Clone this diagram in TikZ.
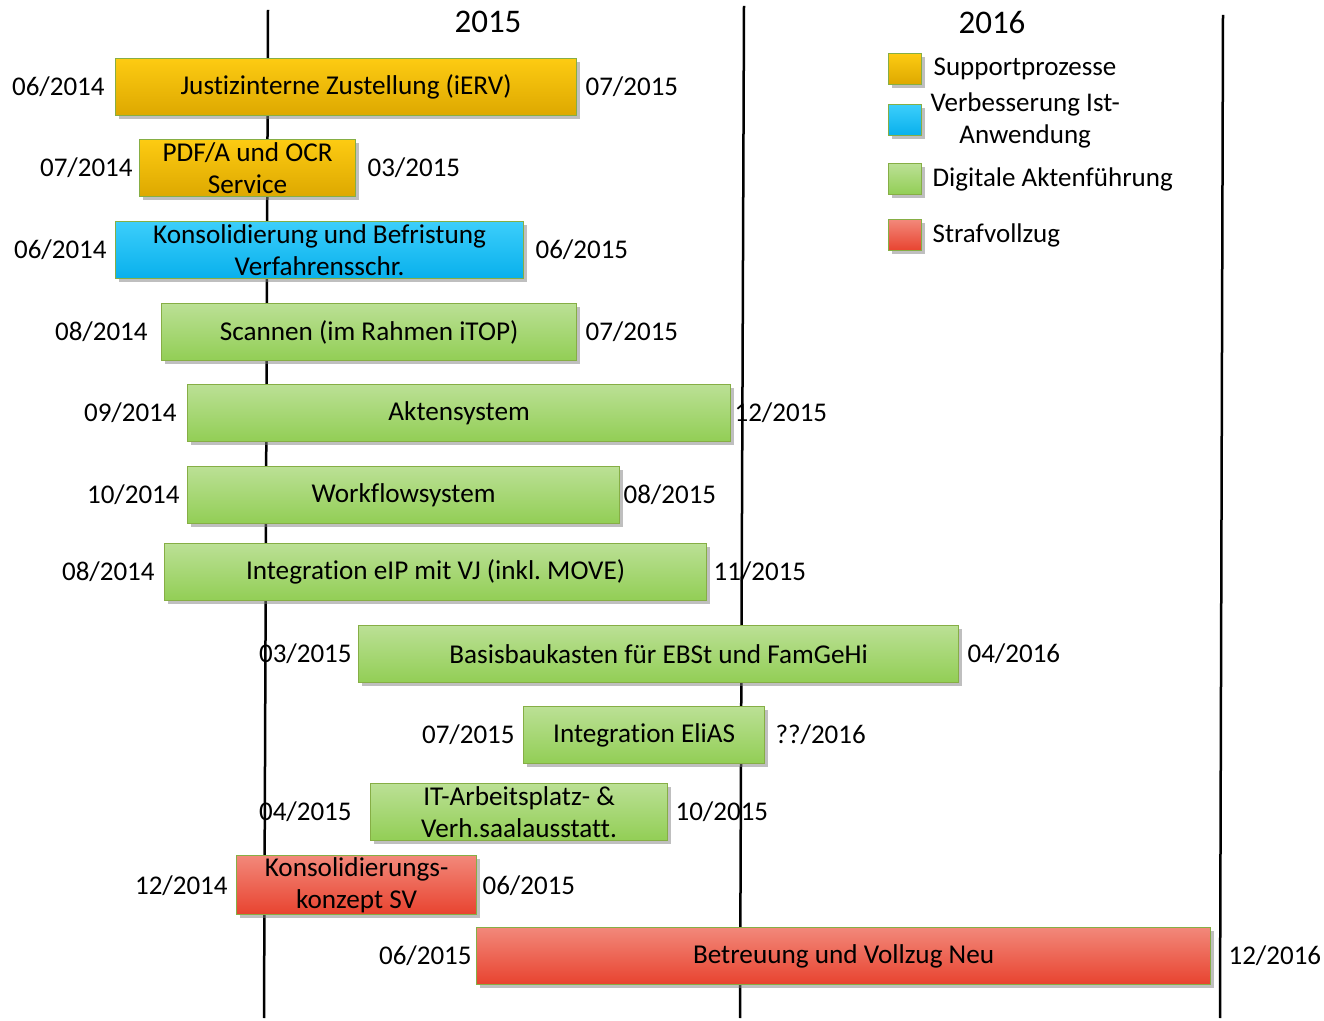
\documentclass[tikz,border=0pt]{standalone}
\usepackage{fontspec}
\setmainfont[Ligatures=NoCommon]{Carlito}
\usetikzlibrary{positioning,shadows}
\frenchspacing

\definecolor{suppTop}{HTML}{FDCB12}
\definecolor{suppBot}{HTML}{DDA800}
\definecolor{istTop}{HTML}{3CCEFB}
\definecolor{istBot}{HTML}{08B0EC}
\definecolor{aktTop}{HTML}{BBE095}
\definecolor{aktBot}{HTML}{92CE55}
\definecolor{svTop}{HTML}{F2887A}
\definecolor{svBot}{HTML}{E8432F}
\definecolor{barEdge}{HTML}{86AE45}

\tikzset{
  bar/.style={draw=barEdge, line width=0.6pt, minimum height=28.5pt,
    anchor=north west, align=center, inner sep=1pt,
    font=\fontsize{13.6}{16}\selectfont,
    drop shadow={shadow xshift=1.5pt, shadow yshift=-1.5pt,
      fill=black!50, opacity=0.5}},
  supp/.style={bar, top color=suppTop, bottom color=suppBot},
  ist/.style={bar, top color=istTop, bottom color=istBot},
  akt/.style={bar, top color=aktTop, bottom color=aktBot},
  sv/.style={bar, top color=svTop, bottom color=svBot},
  legbox/.style={minimum width=16.5pt, minimum height=15.5pt},
  date/.style={inner sep=0pt, font=\fontsize{13.5}{16}\selectfont},
  year/.style={inner sep=0pt, font=\fontsize{16.5}{20}\selectfont},
  yearline/.style={line width=1.25pt, black}
}

\begin{document}
\begin{tikzpicture}[x=0.5pt, y=-0.5pt]
  \useasboundingbox (0,0) rectangle (1324,1021);

  % year lines
  \coordinate (l1top) at (268,10);   \coordinate (l1bot) at (264,1018);
  \coordinate (l2top) at (744,6);    \coordinate (l2bot) at (740,1018);
  \coordinate (l3top) at (1223,15);  \coordinate (l3bot) at (1220,1018);
  \draw [yearline] (l1top) -- (l1bot);
  \draw [yearline] (l2top) -- (l2bot);
  \draw [yearline] (l3top) -- (l3bot);

  % years
  \node [year] (y2015) at (488,22) {2015};
  \node [year] (y2016) at (992,22) {2016};

  % Supportprozesse
  \node [supp, minimum width=230.5pt] (iERV) at (115,58) {Justizinterne Zustellung (iERV)};
  \node [date, left=5pt of iERV] (iERVs) {06/2014};
  \node [date, right=4pt of iERV] (iERVe) {07/2015};

  \node [supp, minimum width=108pt] (ocr) at (139,139) {PDF/A und OCR\\Service};
  \node [date, left=3pt of ocr] (ocrs) {07/2014};
  \node [date, right=5.5pt of ocr] (ocre) {03/2015};

  % Verbesserung Ist-Anwendung
  \node [ist, minimum width=204pt] (befr) at (115,221) {Konsolidierung und Befristung\\Verfahrensschr.};
  \node [date, left=4pt of befr] (befrs) {06/2014};
  \node [date, right=5.5pt of befr] (befre) {06/2015};

  % Digitale Aktenfuehrung
  \node [akt, minimum width=207.5pt] (scan) at (161,303) {Scannen (im Rahmen iTOP)};
  \node [date, left=6.5pt of scan] (scans) {08/2014};
  \node [date, right=4pt of scan] (scane) {07/2015};

  \node [akt, minimum width=271.5pt] (akten) at (187,384) {Aktensystem};
  \node [date, left=5pt of akten] (aktens) {09/2014};
  \node [date, right=1.5pt of akten] (aktene) {12/2015};

  \node [akt, minimum width=216pt] (wf) at (187,466) {Workflowsystem};
  \node [date, left=3.5pt of wf] (wfs) {10/2014};
  \node [date, right=1.5pt of wf] (wfe) {08/2015};

  \node [akt, minimum width=271pt] (eip) at (164,543) {Integration eIP mit VJ (inkl. MOVE)};
  \node [date, left=4.5pt of eip] (eips) {08/2014};
  \node [date, right=3pt of eip] (eipe) {11/2015};

  \node [akt, minimum width=300pt] (basis) at (358,625) {Basisbaukasten für EBSt und FamGeHi};
  \node [date, left=3pt of basis] (basiss) {03/2015};
  \node [date, right=4pt of basis] (basise) {04/2016};

  \node [akt, minimum width=120.5pt] (elias) at (523,706) {Integration EliAS};
  \node [date, left=4pt of elias] (eliass) {07/2015};
  \node [date, right=5pt of elias] (eliase) {??/2016};

  \node [akt, minimum width=148.5pt] (itap) at (370,783) {IT-Arbeitsplatz- \&\\Verh.saalausstatt.};
  \node [date, left=9pt of itap] (itaps) {04/2015};
  \node [date, right=3.5pt of itap] (itape) {10/2015};

  % Strafvollzug
  \node [sv, minimum width=120pt] (kkSV) at (236,855) {Konsolidierungs-\\konzept SV};
  \node [date, left=4pt of kkSV] (kkSVs) {12/2014};
  \node [date, right=2.5pt of kkSV] (kkSVe) {06/2015};

  \node [sv, minimum width=367pt] (bvn) at (476,927) {Betreuung und Vollzug Neu};
  \node [date, left=2pt of bvn] (bvns) {06/2015};
  \node [date, right=8.5pt of bvn] (bvne) {12/2016};

  % legend
  \node [supp, legbox] (kSupp) at (888,53) {};
  \node [date, right=5.5pt of kSupp] (tSupp) {Supportprozesse};
  \node [ist, legbox] (kIst) at (888,104) {};
  \node [date, right=4pt of kIst, align=center] (tIst) {Verbesserung Ist-\\Anwendung};
  \node [akt, legbox] (kAkt) at (888,163) {};
  \node [date, right=5pt of kAkt] (tAkt) {Digitale Aktenführung};
  \node [sv, legbox] (kSV) at (888,219) {};
  \node [date, right=5pt of kSV] (tSV) {Strafvollzug};
\end{tikzpicture}
\end{document}
